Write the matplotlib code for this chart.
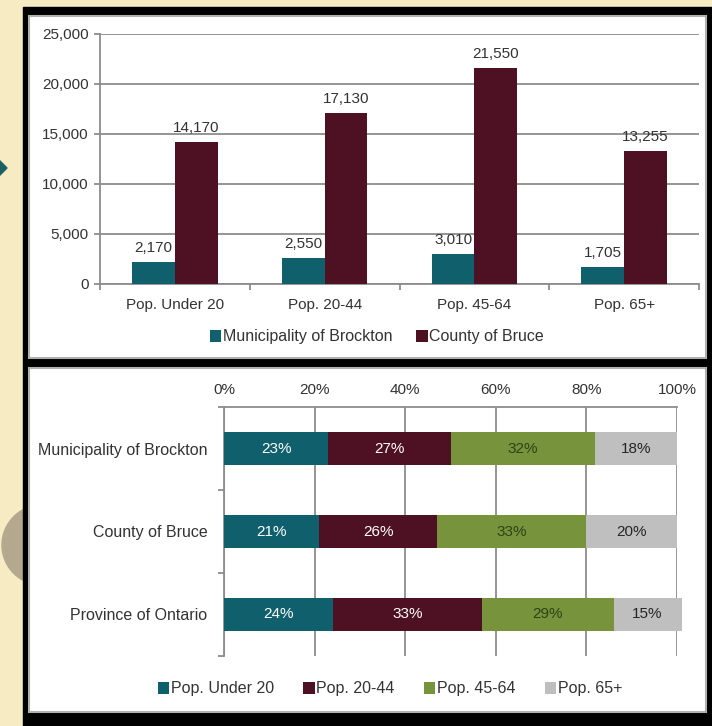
import matplotlib.pyplot as plt
import matplotlib.patches as mpatches
import numpy as np

plt.rcParams['font.family'] = ['Liberation Sans', 'DejaVu Sans']

# data
age_groups = ['Pop. Under 20', 'Pop. 20-44', 'Pop. 45-64', 'Pop. 65+']
brockton_pop = [2170, 2550, 3010, 1705]
bruce_pop = [14170, 17130, 21550, 13255]

regions = ['Municipality of Brockton', 'County of Bruce', 'Province of Ontario']
share_under20 = [23, 21, 24]
share_20_44 = [27, 26, 33]
share_45_64 = [32, 33, 29]
share_65plus = [18, 20, 15]

teal = '#0f5f6c'
maroon = '#4e1023'
green = '#77933c'
grey = '#bfbfbf'
txt = '#333333'
gridc = '#8c8c8c'
fs = 11
fs_big = 11.5

W, H = 712, 726
fig = plt.figure(figsize=(W/100, H/100), dpi=100, facecolor='#f6ebc3')

def px(x0, y0, x1, y1):
    # pixel box (top-down) -> figure fraction rect
    return [x0/W, 1-y1/H, (x1-x0)/W, (y1-y0)/H]

# background decoration
bg = fig.add_axes([0, 0, 1, 1])
bg.set_xlim(0, W)
bg.set_ylim(H, 0)
bg.axis('off')
bg.add_patch(mpatches.Circle((42, 545), 40, color='#b4a88e'))
bg.add_patch(mpatches.Polygon([(-11, 168), (-2, 159), (7, 168), (-2, 177)], color='#1d5e64'))
bg.add_patch(mpatches.Rectangle((23, 7), 689, 719, color='black'))
bg.add_patch(mpatches.Rectangle((29, 16), 677, 342, facecolor='white', edgecolor='#b0b0b0', lw=1.5))
bg.add_patch(mpatches.Rectangle((29, 368), 677, 344, facecolor='white', edgecolor='#b0b0b0', lw=1.5))

# top: grouped bars
ax1 = fig.add_axes(px(100, 34, 699, 284))
x = np.arange(len(age_groups))
bw = 0.285
b1 = ax1.bar(x - bw/2, brockton_pop, bw, color=teal, label='Municipality of Brockton', zorder=3)
b2 = ax1.bar(x + bw/2, bruce_pop, bw, color=maroon, label='County of Bruce', zorder=3)
for bars in (b1, b2):
    for r in bars:
        ax1.text(r.get_x() + r.get_width()/2, r.get_height() + 700, f'{int(r.get_height()):,}',
                 ha='center', va='bottom', fontsize=fs, color=txt)
ax1.set_xlim(-0.5, len(age_groups) - 0.5)
ax1.set_ylim(0, 25000)
ax1.set_yticks(np.arange(0, 25001, 5000))
ax1.set_yticklabels([f'{v:,}' for v in range(0, 25001, 5000)])
ax1.yaxis.grid(True, color=gridc, lw=1.3, zorder=0)
ax1.set_xticks(np.arange(-0.5, len(age_groups), 1))
ax1.set_xticklabels([])
ax1.set_xticks(x, minor=True)
ax1.set_xticklabels(age_groups, minor=True)
ax1.tick_params(axis='x', which='minor', length=0, pad=10, labelsize=fs, labelcolor=txt)
ax1.tick_params(axis='x', which='major', length=4, color=gridc, width=1.3)
ax1.tick_params(axis='y', length=4, color=gridc, width=1.3, labelsize=fs, labelcolor=txt, pad=4)
for s in ['top', 'right']:
    ax1.spines[s].set_visible(False)
for s in ['left', 'bottom']:
    ax1.spines[s].set_color(gridc)
    ax1.spines[s].set_linewidth(1.3)
ax1.legend(loc='center', bbox_to_anchor=(377/W, 1-337/H), bbox_transform=fig.transFigure,
           ncol=2, frameon=False, fontsize=fs_big, handlelength=0.7, handleheight=0.7,
           handletextpad=0.1, columnspacing=1.5, labelcolor=txt)

# bottom: 100% stacked bars
ax2 = fig.add_axes(px(224, 407, 677, 656))
y = np.arange(len(regions))
series = [('Pop. Under 20', share_under20, teal, 'white'),
          ('Pop. 20-44', share_20_44, maroon, 'white'),
          ('Pop. 45-64', share_45_64, green, '#2f4315'),
          ('Pop. 65+', share_65plus, grey, '#262626')]
left = np.zeros(len(regions))
for name, vals, col, tcol in series:
    vals = np.array(vals, dtype=float)
    ax2.barh(y, vals, 0.39, left=left, color=col, label=name, zorder=3, clip_on=False)
    for yi, l, v in zip(y, left, vals):
        ax2.text(l + v/2, yi, f'{int(v)}%', ha='center', va='center', fontsize=fs, color=tcol, zorder=4)
    left += vals
ax2.set_xlim(0, 100)
ax2.set_ylim(len(regions) - 0.5, -0.5)
ax2.set_xticks(np.arange(0, 101, 20))
ax2.set_xticklabels([f'{v}%' for v in range(0, 101, 20)])
ax2.xaxis.tick_top()
ax2.xaxis.grid(True, color=gridc, lw=1.3, zorder=0)
ax2.tick_params(axis='x', length=0, pad=7, labelsize=fs, labelcolor=txt)
ax2.set_yticks(np.arange(-0.5, len(regions), 1))
ax2.set_yticklabels([])
ax2.set_yticks(y, minor=True)
ax2.set_yticklabels(regions, minor=True)
ax2.tick_params(axis='y', which='minor', length=0, pad=12, labelsize=fs_big, labelcolor=txt)
ax2.tick_params(axis='y', which='major', length=4, color=gridc, width=1.3)
for s in ['bottom', 'right']:
    ax2.spines[s].set_visible(False)
for s in ['left', 'top']:
    ax2.spines[s].set_color(gridc)
    ax2.spines[s].set_linewidth(1.3)
ax2.legend(loc='center', bbox_to_anchor=(390/W, 1-689/H), bbox_transform=fig.transFigure,
           ncol=4, frameon=False, fontsize=fs_big, handlelength=0.7, handleheight=0.7,
           handletextpad=0.1, columnspacing=1.85, labelcolor=txt)

fig.savefig('out.png', dpi=100, facecolor=fig.get_facecolor())
